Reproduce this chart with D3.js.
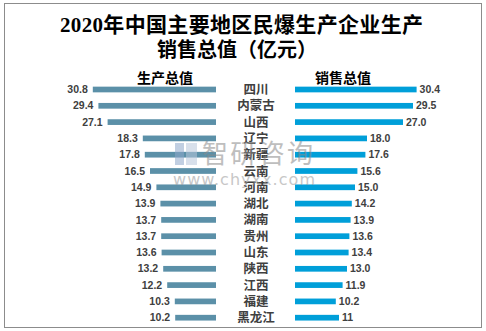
<!DOCTYPE html>
<html><head><meta charset="utf-8">
<script src="https://cdn.jsdelivr.net/npm/d3@7"></script>
<style>html,body{margin:0;padding:0;background:#fff;}svg{display:block;}</style>
</head><body>
<script>
const categories = ["四川","内蒙古","山西","辽宁","新疆","云南","河南","湖北","湖南","贵州","山东","陕西","江西","福建","黑龙江"];
const production = [30.8,29.4,27.1,18.3,17.8,16.5,14.9,13.9,13.7,13.7,13.6,13.2,12.2,10.3,10.2];
const sales = [30.4,29.5,27.0,18.0,17.6,15.6,15.0,14.2,13.9,13.6,13.4,13.0,11.9,10.2,11];
const salesLabels = ["30.4","29.5","27.0","18.0","17.6","15.6","15.0","14.2","13.9","13.6","13.4","13.0","11.9","10.2","11"];
const prodLabels = ["30.8","29.4","27.1","18.3","17.8","16.5","14.9","13.9","13.7","13.7","13.6","13.2","12.2","10.3","10.2"];
const seriesNames = ["生产总值","销售总值"];
const titleLines = ["2020年中国主要地区民爆生产企业生产","销售总值（亿元）"];

const W=486,H=331;
const svg=d3.select("body").append("svg").attr("width",W).attr("height",H);
svg.append("rect").attr("x",4.5).attr("y",3.5).attr("width",477).attr("height",324)
  .attr("fill","#fff").attr("stroke","#8c8c8c").attr("stroke-width",1);

const titleFont='"Liberation Serif","Noto Sans CJK SC",serif';
svg.selectAll("text.title").data(titleLines).join("text").attr("class","title")
  .attr("x",(d,i)=>i===0?60:237).attr("y",(d,i)=>i===0?32:57)
  .attr("text-anchor",(d,i)=>i===0?"start":"middle").attr("font-family",titleFont).attr("font-weight","bold")
  .attr("font-size",(d,i)=>i===0?21:20).attr("fill","#000")
  .each(function(d,i){ if(i===0) d3.select(this).attr("textLength",363).attr("lengthAdjust","spacing"); })
  .text(d=>d);

const y=d3.scaleBand().domain(categories).range([81.35,325.85]).paddingInner(0.65).paddingOuter(0.325);
const xl=d3.scaleLinear().domain([0,35]).range([216,76]);
const xr=d3.scaleLinear().domain([0,35]).range([295,435]);

const cL="#5B90A8", cR="#009FD9", tc="#404040";
const valFont='"Liberation Sans",Arial,sans-serif';
const cjk='"Noto Sans CJK SC",sans-serif';

// headers
svg.selectAll("text.hdr").data(seriesNames).join("text").attr("class","hdr")
  .attr("x",(d,i)=>i===0?165:343).attr("y",83).attr("text-anchor","middle")
  .attr("font-family",cjk).attr("font-weight","bold").attr("font-size",14).attr("fill","#000").text(d=>d);

// left bars
svg.selectAll("rect.l").data(production).join("rect").attr("class","l")
  .attr("x",d=>xl(d)).attr("width",d=>xl(0)-xl(d))
  .attr("y",(d,i)=>y(categories[i])).attr("height",y.bandwidth()).attr("fill",cL);
svg.selectAll("text.lv").data(production).join("text").attr("class","lv")
  .attr("x",d=>xl(d)-5).attr("y",(d,i)=>y(categories[i])+y.bandwidth()/2)
  .attr("dy","0.35em").attr("text-anchor","end").attr("font-family",valFont).attr("font-weight","bold")
  .attr("font-size",10.5).attr("fill",tc).text((d,i)=>prodLabels[i]);

// right bars
svg.selectAll("rect.r").data(sales).join("rect").attr("class","r")
  .attr("x",xr(0)).attr("width",d=>xr(d)-xr(0))
  .attr("y",(d,i)=>y(categories[i])).attr("height",y.bandwidth()).attr("fill",cR);
svg.selectAll("text.rv").data(sales).join("text").attr("class","rv")
  .attr("x",d=>xr(d)+3).attr("y",(d,i)=>y(categories[i])+y.bandwidth()/2)
  .attr("dy","0.35em").attr("text-anchor","start").attr("font-family",valFont).attr("font-weight","bold")
  .attr("font-size",10.5).attr("fill",tc).text((d,i)=>salesLabels[i]);

// categories
svg.selectAll("text.cat").data(categories).join("text").attr("class","cat")
  .attr("x",256).attr("y",d=>y(d)+y.bandwidth()/2).attr("dy","0.36em")
  .attr("text-anchor","middle").attr("font-family",cjk).attr("font-weight","bold")
  .attr("font-size",12.5).attr("fill",tc).text(d=>d);

// watermark
const wm=svg.append("g").attr("opacity",0.55);
wm.append("rect").attr("x",175).attr("y",143).attr("width",9).attr("height",22).attr("fill","#8fa9cc");
wm.append("rect").attr("x",186).attr("y",143).attr("width",11).attr("height",22).attr("fill","#b9c7dc");
wm.append("text").attr("x",202).attr("y",163).attr("font-family",cjk).attr("font-size",26)
  .attr("fill","#8a8a8a").attr("textLength",111).text("智研咨询");
wm.append("text").attr("x",173).attr("y",185).attr("font-family",'"DejaVu Sans",sans-serif').attr("font-size",16)
  .attr("fill","#9a9a9a").attr("textLength",142).text("www.chyxx.com");
</script>
</body></html>
